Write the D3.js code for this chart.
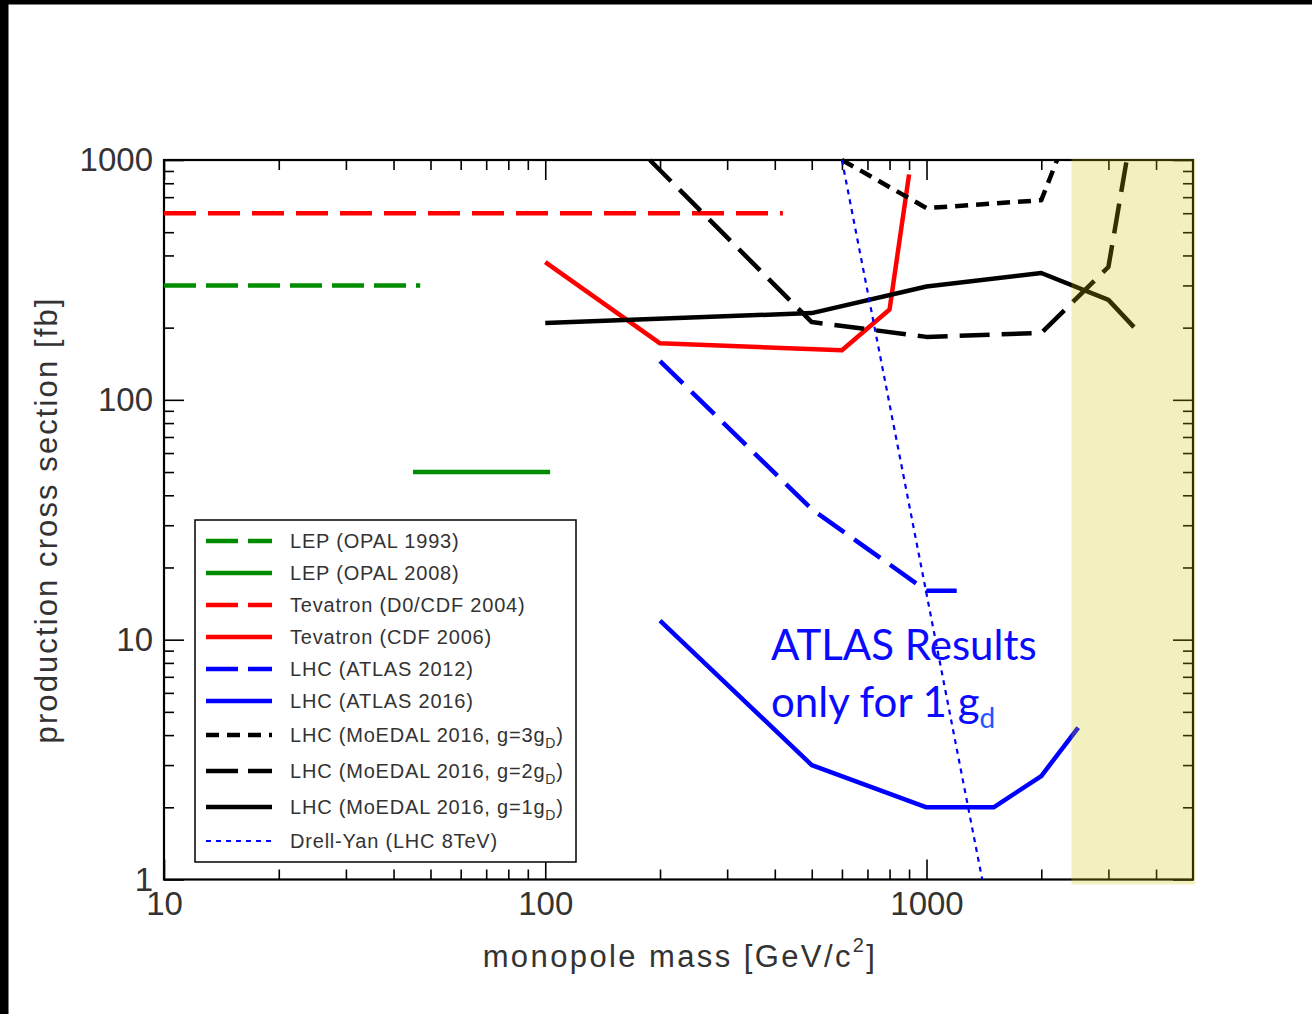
<!DOCTYPE html>
<html>
<head>
<meta charset="utf-8">
<script src="https://cdn.jsdelivr.net/npm/d3@7"></script>
<style>
  body { margin: 0; background: #fff; }
  svg { display: block; }
</style>
</head>
<body>
<div id="chart"></div>
<script>
// Dimensions
const width = 1312;
const height = 1014;
const plot = { left: 164, top: 160, right: 1193, bottom: 879.5 };

// Données : masse [GeV/c²] et section efficace [fb]
const lep1993Mass = [10, 47];
const lep1993Xsec = [300, 300];
const lep2008Mass = [45, 103];
const lep2008Xsec = [50, 50];
const tev2004Mass = [10, 420];
const tev2004Xsec = [600, 600];
const tev2006Mass = [100, 200, 600, 800, 900];
const tev2006Xsec = [375, 172, 161, 238, 870];
const atlas2012Mass = [200, 500, 1000, 1200];
const atlas2012Xsec = [145, 35, 16, 16];
const atlas2016Mass = [200, 500, 1000, 1500, 2000, 2500];
const atlas2016Xsec = [12, 3, 2, 2, 2.7, 4.3];
const moedal3Mass = [600, 1000, 2000, 2200];
const moedal3Xsec = [1000, 630, 680, 1000];
const moedal2Mass = [188, 500, 1000, 2000, 3000, 3350];
const moedal2Xsec = [1000, 211, 183, 190, 358, 1000];
const moedal1Mass = [100, 500, 1000, 2000, 3000, 3500];
const moedal1Xsec = [209, 230, 297, 338, 261, 201];
const drellYanMass = [600, 1400];
const drellYanXsec = [1000, 1];

// Graduations
const xMajor = [10, 100, 1000];
const xMinor = [20, 30, 40, 50, 60, 70, 80, 90, 200, 300, 400, 500, 600, 700, 800, 900, 2000, 3000, 4000];
const yMajor = [1, 10, 100, 1000];
const yMinor = [2, 3, 4, 5, 6, 7, 8, 9, 20, 30, 40, 50, 60, 70, 80, 90, 200, 300, 400, 500, 600, 700, 800, 900];

// Légende (le "_X" final = indice)
const legendLabels = [
  "LEP (OPAL 1993)",
  "LEP (OPAL 2008)",
  "Tevatron (D0/CDF 2004)",
  "Tevatron (CDF 2006)",
  "LHC (ATLAS 2012)",
  "LHC (ATLAS 2016)",
  "LHC (MoEDAL 2016, g=3g_D)",
  "LHC (MoEDAL 2016, g=2g_D)",
  "LHC (MoEDAL 2016, g=1g_D)",
  "Drell-Yan (LHC 8TeV)",
];

// Zone jaune (masses)
const bandMass = [2400, 5000];

const green = "#008c00";
const red = "#ff0000";
const blue = "#0000ff";
const black = "#000000";

const series = [
  { mass: lep1993Mass, xsec: lep1993Xsec, color: green, dash: "32,10", legendDash: "32,10", w: 4.5 },
  { mass: lep2008Mass, xsec: lep2008Xsec, color: green, dash: null, legendDash: null, w: 4.5 },
  { mass: tev2004Mass, xsec: tev2004Xsec, color: red, dash: "32,12", legendDash: "32,10", w: 4.5 },
  { mass: tev2006Mass, xsec: tev2006Xsec, color: red, dash: null, legendDash: null, w: 4.5 },
  { mass: atlas2012Mass, xsec: atlas2012Xsec, color: blue, dash: "32,12", legendDash: "32,10", w: 4.5 },
  { mass: atlas2016Mass, xsec: atlas2016Xsec, color: blue, dash: null, legendDash: null, w: 4.5 },
  { mass: moedal3Mass, xsec: moedal3Xsec, color: black, dash: "13,8", legendDash: "13,8", w: 4.5 },
  { mass: moedal2Mass, xsec: moedal2Xsec, color: black, dash: "30,12", legendDash: "32,10", w: 4.5 },
  { mass: moedal1Mass, xsec: moedal1Xsec, color: black, dash: null, legendDash: null, w: 4.5 },
  { mass: drellYanMass, xsec: drellYanXsec, color: blue, dash: "5,5", legendDash: "5,5", w: 2.2 },
].map((s, i) => ({ ...s, label: legendLabels[i] }));

const textColor = "#333333";
const sansFont = "'Liberation Sans', Arial, Helvetica, sans-serif";

const svg = d3
  .select("#chart")
  .append("svg")
  .attr("width", width)
  .attr("height", height);

svg.append("rect").attr("width", width).attr("height", height).attr("fill", "#fff");

// Échelles logarithmiques
const x = d3.scaleLog().domain([10, 5000]).range([plot.left, plot.right]);
const y = d3.scaleLog().domain([1, 1000]).range([plot.bottom, plot.top]);

svg
  .append("defs")
  .append("clipPath")
  .attr("id", "clip")
  .append("rect")
  .attr("x", plot.left)
  .attr("y", plot.top - 2)
  .attr("width", plot.right - plot.left)
  .attr("height", plot.bottom - plot.top + 2);

// Axes (graduations vers l'intérieur)
function styleTicks(g, withText) {
  g.select(".domain").remove();
  g.selectAll(".tick line").attr("stroke", "#000").attr("stroke-width", 1.6);
  if (withText) {
    g.selectAll(".tick text")
      .style("font-family", sansFont)
      .style("font-size", "33px")
      .style("fill", textColor);
  }
}

const fmt = d3.format("d");

svg.append("g")
  .attr("transform", `translate(0,${plot.bottom})`)
  .call(d3.axisBottom(x).tickValues(xMajor).tickSize(-20).tickPadding(12).tickFormat(fmt))
  .call((g) => styleTicks(g, true));
svg.append("g")
  .attr("transform", `translate(0,${plot.bottom})`)
  .call(d3.axisBottom(x).tickValues(xMinor).tickSize(-10).tickFormat(""))
  .call((g) => styleTicks(g, false));
svg.append("g")
  .attr("transform", `translate(0,${plot.top})`)
  .call(d3.axisTop(x).tickValues(xMajor).tickSize(-20).tickFormat(""))
  .call((g) => styleTicks(g, false));
svg.append("g")
  .attr("transform", `translate(0,${plot.top})`)
  .call(d3.axisTop(x).tickValues(xMinor).tickSize(-10).tickFormat(""))
  .call((g) => styleTicks(g, false));

svg.append("g")
  .attr("transform", `translate(${plot.left},0)`)
  .call(d3.axisLeft(y).tickValues(yMajor).tickSize(-20).tickPadding(11).tickFormat(fmt))
  .call((g) => styleTicks(g, true));
svg.append("g")
  .attr("transform", `translate(${plot.left},0)`)
  .call(d3.axisLeft(y).tickValues(yMinor).tickSize(-10).tickFormat(""))
  .call((g) => styleTicks(g, false));
svg.append("g")
  .attr("transform", `translate(${plot.right},0)`)
  .call(d3.axisRight(y).tickValues(yMajor).tickSize(-20).tickFormat(""))
  .call((g) => styleTicks(g, false));
svg.append("g")
  .attr("transform", `translate(${plot.right},0)`)
  .call(d3.axisRight(y).tickValues(yMinor).tickSize(-10).tickFormat(""))
  .call((g) => styleTicks(g, false));

// Cadre
svg
  .append("rect")
  .attr("x", plot.left)
  .attr("y", plot.top)
  .attr("width", plot.right - plot.left)
  .attr("height", plot.bottom - plot.top)
  .attr("fill", "none")
  .attr("stroke", "#000")
  .attr("stroke-width", 2.2);

// Titres des axes
const xTitle = svg
  .append("text")
  .attr("x", 680)
  .attr("y", 967)
  .attr("text-anchor", "middle")
  .style("font-family", sansFont)
  .style("font-size", "31px")
  .style("letter-spacing", "2.4px")
  .style("fill", textColor);
xTitle.append("tspan").text("monopole mass [GeV/c");
xTitle.append("tspan").attr("dy", -15).style("font-size", "20px").text("2");
xTitle.append("tspan").attr("dy", 15).text("]");

svg
  .append("text")
  .attr("transform", "translate(57,520) rotate(-90)")
  .attr("text-anchor", "middle")
  .style("font-family", sansFont)
  .style("font-size", "31px")
  .style("letter-spacing", "2.1px")
  .style("fill", textColor)
  .text("production cross section [fb]");

// Courbes
const line = d3
  .line()
  .x((d) => x(d[0]))
  .y((d) => y(d[1]));

svg
  .append("g")
  .attr("clip-path", "url(#clip)")
  .selectAll("path")
  .data(series)
  .enter()
  .append("path")
  .attr("d", (s) => line(s.mass.map((m, i) => [m, s.xsec[i]])))
  .attr("fill", "none")
  .attr("stroke", (s) => s.color)
  .attr("stroke-width", (s) => s.w)
  .attr("stroke-dasharray", (s) => s.dash)
  .attr("stroke-linejoin", "round");

// Légende
const legend = svg.append("g");
legend
  .append("rect")
  .attr("x", 195)
  .attr("y", 520)
  .attr("width", 381)
  .attr("height", 342)
  .attr("fill", "#fff")
  .attr("stroke", "#000")
  .attr("stroke-width", 1.5);

const hasSub = (s) => s.label.includes("_");
let rowY = 541;
series.forEach((s, i) => {
  if (i > 0) rowY += 32 + (hasSub(series[i - 1]) ? 2 : 0) + (hasSub(s) ? 2 : 0);
  legend
    .append("line")
    .attr("x1", 206)
    .attr("x2", 272)
    .attr("y1", rowY)
    .attr("y2", rowY)
    .attr("stroke", s.color)
    .attr("stroke-width", s.w)
    .attr("stroke-dasharray", s.legendDash);

  const t = legend
    .append("text")
    .attr("x", 290)
    .attr("y", rowY + 7)
    .style("font-family", sansFont)
    .style("font-size", "20px")
    .style("letter-spacing", "0.8px")
    .style("fill", textColor);
  if (hasSub(s)) {
    const [main, rest] = s.label.split("_");
    t.append("tspan").text(main);
    t.append("tspan").attr("dy", 6).style("font-size", "14px").text(rest.slice(0, -1));
    t.append("tspan").attr("dy", -6).text(rest.slice(-1));
  } else {
    t.text(s.label);
  }
});

// Annotation
const noteFont = "Lato, 'Open Sans', sans-serif";
svg
  .append("text")
  .attr("x", 771)
  .attr("y", 660)
  .style("font-family", noteFont)
  .style("font-size", "42px")
  .style("fill", "#0a0aff")
  .text("ATLAS Results");
const note2 = svg
  .append("text")
  .attr("x", 771)
  .attr("y", 717)
  .style("font-family", noteFont)
  .style("font-size", "42px")
  .style("fill", "#0a0aff");
note2.append("tspan").text("only for 1 g");
note2.append("tspan").attr("dy", 11).style("font-size", "28px").style("fill", "#2255ff").text("d");

// Bande jaune (superposée, semi-transparente)
svg
  .append("rect")
  .attr("x", x(bandMass[0]))
  .attr("y", plot.top - 1)
  .attr("width", x(bandMass[1]) - x(bandMass[0]) + 2)
  .attr("height", plot.bottom - plot.top + 6)
  .attr("fill", "rgb(202,194,0)")
  .attr("fill-opacity", 0.25);

// Bordures noires de la diapositive
svg.append("rect").attr("x", 0).attr("y", 0).attr("width", width).attr("height", 4.5).attr("fill", "#000");
svg.append("rect").attr("x", 0).attr("y", 0).attr("width", 8.5).attr("height", height).attr("fill", "#000");
</script>
</body>
</html>
